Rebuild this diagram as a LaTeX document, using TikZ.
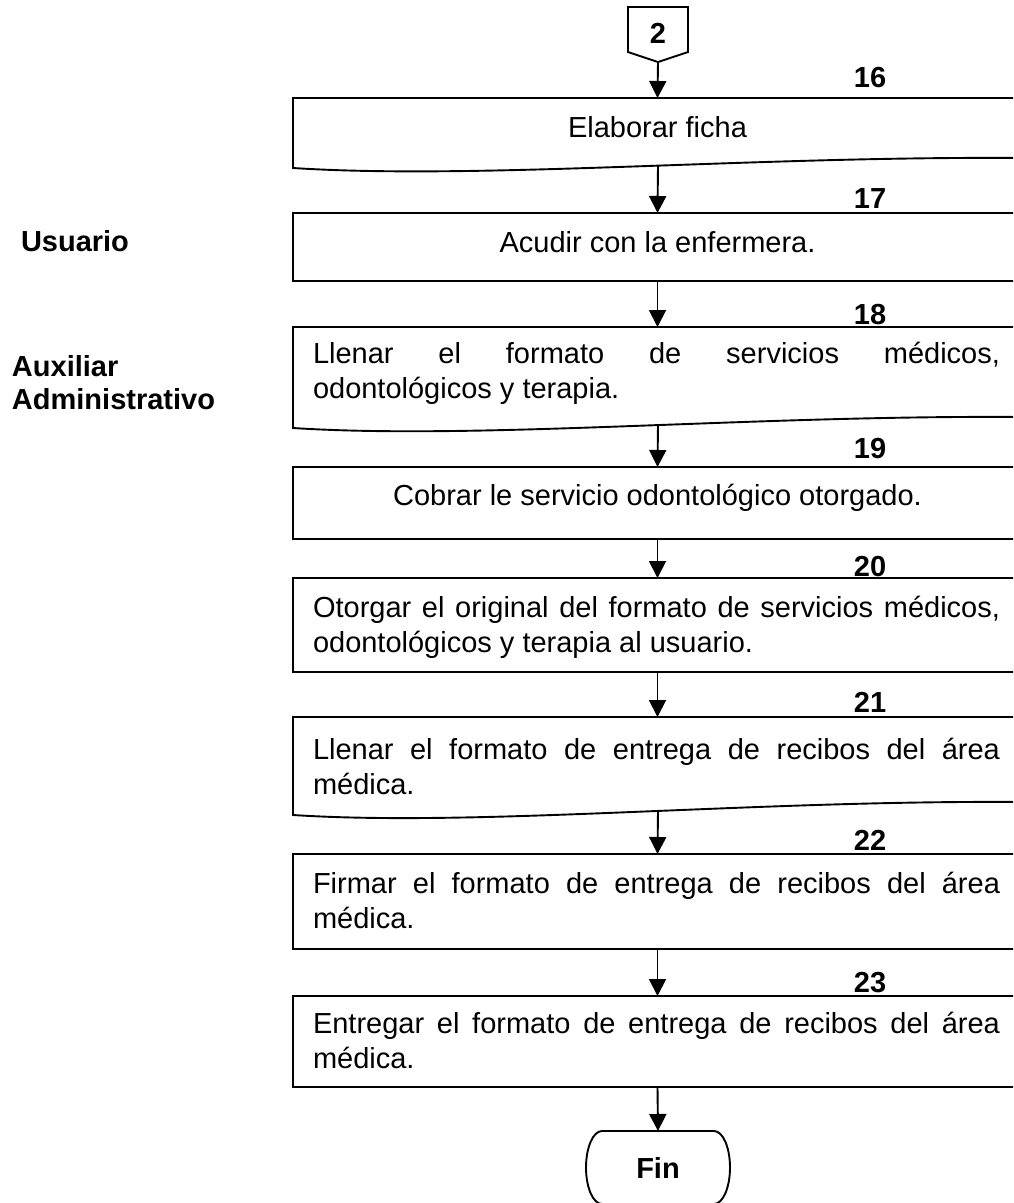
\documentclass[tikz,border=0pt]{standalone}
\usepackage{fontspec}
\setmainfont{Liberation Sans}
\usetikzlibrary{arrows.meta,calc}
\hyphenpenalty=10000
\exhyphenpenalty=10000
\begin{document}
\begin{tikzpicture}[x=1pt,y=-1pt]
\tikzset{
  every node/.style={font=\fontsize{29}{35}\selectfont, inner sep=0pt, outer sep=0pt},
  line/.style={line width=1.9pt, line join=miter},
  box/.style={line, draw, rectangle, minimum width=729pt, minimum height=#1},
  docbox/.style={rectangle, minimum width=729pt, minimum height=#1},
  flow/.style={line, -{Triangle[length=17pt,width=17pt]}},
  num/.style={font=\bfseries\fontsize{29}{35}\selectfont, anchor=base},
  ctext/.style={anchor=base},
  jtext/.style={anchor=base west, text width=687pt, align=justify},
  lbl/.style={font=\bfseries\fontsize{29}{33}\selectfont},
}
\useasboundingbox (0,0) rectangle (1013,1203);
\clip (0,0) rectangle (1013,1203);

% off-page connector
\draw[line] (628,7) -- (688,7) -- (688,52) -- (658,62) -- (628,52) -- cycle;
\node[font=\bfseries\fontsize{29}{35}\selectfont] (c2) at (658,33) {2};
\coordinate (c2tip) at (658,62);

% boxes
\node[docbox=60pt] (b16) at (657.5,128) {};
\draw[line] (b16.south east) -- (b16.north east) -- (b16.north west) -- ($(b16.south west)+(0,10)$)
  .. controls ($(b16.south west)+(187,22)$) and ($(b16.south east)+(-272,-2)$) .. (b16.south east);
\coordinate (w16) at ($(b16.south)+(0.5,7.7)$);

\node[box=68pt] (b17) at (657.5,247) {};

\node[docbox=90pt] (b18) at (657.5,372) {};
\draw[line] (b18.south east) -- (b18.north east) -- (b18.north west) -- ($(b18.south west)+(0,11)$)
  .. controls ($(b18.south west)+(187,23)$) and ($(b18.south east)+(-272,-2)$) .. (b18.south east);
\coordinate (w18) at ($(b18.south)+(0.5,8.1)$);

\node[box=72pt] (b19) at (657.5,503) {};
\node[box=94pt] (b20) at (657.5,625) {};

\node[docbox=85pt] (b21) at (657.5,759.5) {};
\draw[line] (b21.south east) -- (b21.north east) -- (b21.north west) -- ($(b21.south west)+(0,13)$)
  .. controls ($(b21.south west)+(187,25)$) and ($(b21.south east)+(-272,-2)$) .. (b21.south east);
\coordinate (w21) at ($(b21.south)+(0.5,9)$);

\node[box=95pt] (b22) at (657.5,901.5) {};
\node[box=91pt] (b23) at (657.5,1041.5) {};

% terminal
\node[minimum width=144pt, minimum height=73pt, font=\bfseries\fontsize{29}{35}\selectfont] (fin) at (658,1167.5) {Fin};
\draw[line] ($(fin.north west)+(16,0)$) -- ($(fin.north east)+(-16,0)$)
  arc[start angle=90, end angle=-90, x radius=16pt, y radius=36.5pt]
  -- ($(fin.south west)+(16,0)$)
  arc[start angle=270, end angle=90, x radius=16pt, y radius=36.5pt] -- cycle;

% texts
\node[ctext] (t16) at (657.5,137) {Elaborar ficha};
\node[ctext] (t17) at (657.5,252) {Acudir con la enfermera.};
\node[jtext] (t18) at (313,363) {Llenar el formato de servicios médicos,\linebreak odontológicos y terapia.};
\node[ctext] (t19) at (657.5,505) {Cobrar le servicio odontológico otorgado.};
\node[jtext] (t20) at (313,617) {Otorgar el original del formato de servicios médicos,\linebreak odontológicos y terapia al usuario.};
\node[jtext] (t21) at (313,759) {Llenar el formato de entrega de recibos del área\linebreak médica.};
\node[jtext] (t22) at (313,893) {Firmar el formato de entrega de recibos del área\linebreak médica.};
\node[jtext] (t23) at (313,1033) {Entregar el formato de entrega de recibos del área\linebreak médica.};

% step numbers
\node[num] (n16) at (870,87) {16};
\node[num] (n17) at (870,208) {17};
\node[num] (n18) at (870,324) {18};
\node[num] (n19) at (870,458) {19};
\node[num] (n20) at (870,576) {20};
\node[num] (n21) at (870,712) {21};
\node[num] (n22) at (870,850) {22};
\node[num] (n23) at (870,992) {23};

% role labels
\node[lbl, anchor=base west] (usu) at (21,251) {Usuario};
\node[lbl, anchor=north west, align=left] (aux) at (12,355) {Auxiliar\\Administrativo};

% connectors
\draw[flow] (c2tip) -- (b16.north);
\draw[flow] (w16) -- (b17.north);
\draw[flow] (b17.south) -- (b18.north);
\draw[flow] (w18) -- (b19.north);
\draw[flow] (b19.south) -- (b20.north);
\draw[flow] (b20.south) -- (b21.north);
\draw[flow] (w21) -- (b22.north);
\draw[flow] (b22.south) -- (b23.north);
\draw[flow] (b23.south) -- (fin.north);
\end{tikzpicture}
\end{document}
